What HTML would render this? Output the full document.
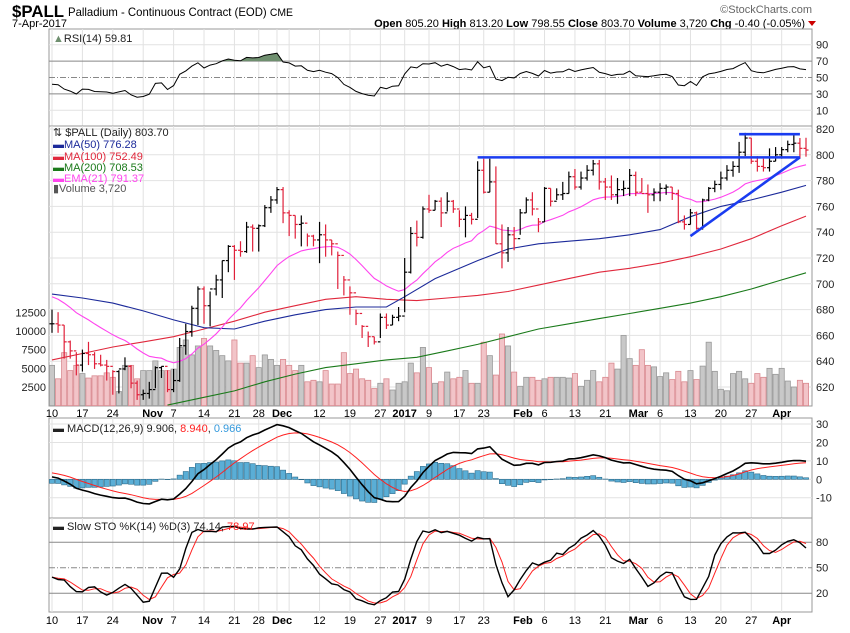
<!DOCTYPE html>
<html><head><meta charset="utf-8"><style>
body{margin:0;background:#fff;width:850px;height:633px;overflow:hidden;font-family:"Liberation Sans",sans-serif}
svg{display:block}
text{font-family:"Liberation Sans",sans-serif}
</style></head><body>
<svg id="chart" width="850" height="633" xmlns="http://www.w3.org/2000/svg">
<text x="12" y="17" font-size="17" font-weight="bold" textLength="52" lengthAdjust="spacingAndGlyphs">$PALL</text>
<text x="68" y="16" font-size="12" textLength="225" lengthAdjust="spacingAndGlyphs">Palladium - Continuous Contract (EOD) <tspan font-size="11">CME</tspan></text>
<text x="12" y="27" font-size="11">7-Apr-2017</text>
<text x="812" y="13" font-size="11" fill="#666" text-anchor="end">©StockCharts.com</text>
<text x="805" y="27" font-size="11" text-anchor="end"><tspan font-weight="bold">Open</tspan> 805.20 <tspan font-weight="bold">High</tspan> 813.20 <tspan font-weight="bold">Low</tspan> 798.55 <tspan font-weight="bold">Close</tspan> 803.70 <tspan font-weight="bold">Volume</tspan> 3,720 <tspan font-weight="bold">Chg</tspan> -0.40 (-0.05%)</text>
<polygon points="808,21 816,21 812,26" fill="#c00"/>
<g id="g"></g>
</svg>
<script>
const closes=[669,668,655,648,637,646,645,638,637,636,632,634,636,623,614,615,618,635,636,618,625,652,663,681,696,683,696,703,718,729,726,725,744,743,745,759,765,773,755,753,746,747,737,734,738,734,731,722,703,693,677,667,659,655,674,668,674,675,709,739,736,758,757,764,755,764,758,750,753,750,788,771,779,731,724,738,735,755,765,758,748,774,764,769,770,783,775,782,788,793,779,775,769,773,774,784,771,770,769,771,774,775,770,748,746,755,743,765,774,777,782,788,791,802,813,795,791,790,795,800,804,808,809,805,803.7];
const highs=[680,678,668,656,647,649,655,647,645,641,633,633,643,637,625,618,624,636,636,633,634,658,669,683,698,698,694,707,718,730,730,733,748,746,746,761,768,775,775,757,753,753,739,738,748,746,734,725,706,698,680,668,663,659,677,677,676,682,720,744,749,760,769,765,767,771,765,757,760,755,795,797,797,791,746,744,744,758,767,771,751,775,774,774,779,787,789,787,792,796,796,782,784,782,780,789,787,782,777,774,778,777,775,773,753,758,756,766,775,780,787,792,795,810,817,813,799,797,805,806,806,811,815,813,813.2];
const lows=[662,662,642,642,629,632,637,634,636,625,614,615,633,619,610,610,611,619,627,616,616,624,645,659,668,669,667,691,689,709,703,721,724,725,725,744,755,762,747,737,735,729,729,729,716,721,722,696,691,676,668,658,651,653,658,665,668,671,678,708,729,735,755,757,744,756,755,744,736,746,751,770,771,731,712,717,726,738,755,753,740,748,760,765,765,770,773,773,780,784,773,765,765,762,768,768,768,771,755,764,764,769,765,747,742,746,742,742,764,771,773,780,783,786,799,793,787,787,787,795,797,802,802,797,798.55];
const volumes=[5400,3600,7100,4700,5400,4300,3700,4000,4000,4400,3800,1900,5400,5400,3600,4700,4700,6000,4700,4700,4900,7800,8800,6800,8000,9000,8000,7400,6700,6000,8800,5700,5700,6700,5100,6800,6200,5400,6200,5400,4700,5400,3200,3400,3200,4700,2900,2900,7100,4300,4900,3600,3400,2300,3000,3600,2100,3000,3200,5700,4400,7800,5100,3000,3200,4500,3600,3800,4700,3000,3000,8500,6700,4100,9600,8000,4500,2600,3800,3800,3400,3600,3800,3800,3800,3700,4300,2600,3400,4700,3200,3800,5700,4900,9400,6300,5400,7500,5400,5200,3900,4400,3500,4600,3200,4700,3500,5300,8500,4600,2200,2000,4300,4600,3600,3000,4300,3800,5000,4200,5000,3300,2500,3400,3000,3400,3600,4100,4000,3720].slice(0,125);
const ma50Idx=[0,5,10,15,20,25,30,35,40,45,50,55,58,63,70,75,80,85,90,95,100,105,110,115,120,124];
const ma50=[692,689,685,679,672,666,665,671,676,680,682,682,690,704,718,727,731,733,735,738,742,752,760,765,771,776.28];
const ma100Idx=[0,5,10,15,20,25,30,35,40,45,50,55,60,65,70,75,80,85,90,95,100,105,110,115,120,124];
const ma100=[641,646,651,655,659,665,671,678,683,688,690,688,687,689,691,694,699,704,709,712,716,721,727,735,745,752.49];
const ma200Idx=[19,25,30,35,40,45,50,55,60,65,70,75,80,85,90,95,100,105,110,115,120,124];
const ma200=[606,612,617,624,630,635,638,641,643,648,653,659,665,669,673,677,681,685,690,696,703,708.53];
const priceTicks=[620,640,660,680,700,720,740,760,780,800,820];
const volTicks=[2500,5000,7500,10000,12500];
const rsiTicks=[10,30,50,70,90];
const macdTicks=[-10,0,10,20,30];
const stoTicks=[20,50,80];

const NS="http://www.w3.org/2000/svg";
const G=document.getElementById('g');
function el(tag,attrs,parent,txt){const e=document.createElementNS(NS,tag);for(const k in attrs)e.setAttribute(k,attrs[k]);if(txt!=null)e.textContent=txt;(parent||G).appendChild(e);return e;}
const L=49,R=812;
const N=closes.length;
const xi=i=>52+i*(754/(N-1));
const py=p=>129+(820-p)*1.29;
const vy=v=>405.7-v/10000*74.7;
const ry=v=>77.5-(v-50)*0.82;
const my=v=>479.3-v*1.843;
const sy=v=>567.7-(v-50)*0.85;
const P={rsi:[29,126],price:[126,406],macd:[418,518],sto:[518,612]};

// trading days
const hol=['2016-11-24','2016-12-26','2017-01-02','2017-01-16','2017-02-20'];
const days=[];let d=new Date(Date.UTC(2016,9,10));
while(days.length<N){const w=d.getUTCDay();const s=d.toISOString().slice(0,10);if(w>0&&w<6&&hol.indexOf(s)<0)days.push(new Date(d));d=new Date(d.getTime()+864e5);}
const mon=['Jan','Feb','Mar','Apr','May','Jun','Jul','Aug','Sep','Oct','Nov','Dec'];
const weeks=[];
for(let i=0;i<N;i++){const dd=days[i],p=i?days[i-1]:null;if(!p||(dd-p)>3*864e5||dd.getUTCDay()<p.getUTCDay())weeks.push(i);}
const grid=[],labels=[];let lastMonthX=-100;
for(let w=0;w<weeks.length;w++){const s=weeks[w],e=w+1<weeks.length?weeks[w+1]:N;grid.push(s);
 let ms=-1;for(let i=s;i<e;i++){if(i>0&&days[i].getUTCMonth()!==days[i-1].getUTCMonth())ms=i;}
 const mname=ms>=0?(days[ms].getUTCMonth()===0?String(days[ms].getUTCFullYear()):mon[days[ms].getUTCMonth()]):null;
 if(ms===s){labels.push([xi(s),mname,true,'middle']);}
 else if(ms>0&&ms-s<=2){labels.push([xi(s)-1,mname,true,'start']);}
 else{if(xi(s)-lastMonthX>24)labels.push([xi(s),String(days[s].getUTCDate()),false,'middle']);
  if(ms>0){labels.push([xi(ms)-5,mname,true,'start']);grid.push(ms);lastMonthX=xi(ms)-5;}}}

// panels
for(const k in P){const [t,b]=P[k];
 const r=el('rect',{x:L,y:t,width:R-L,height:b-t,fill:'#fff',stroke:'#999'});
 
 
 for(const g of grid){const l=el('line',{x1:xi(g),x2:xi(g),y1:t,y2:b,stroke:'#e2e2e2'});
  
  }}
function hline(y,name,stroke,dash){const l=el('line',{x1:L,x2:R,y1:y,y2:y,stroke:stroke||'#e2e2e2'});if(dash)l.setAttribute('stroke-dasharray',dash);
 
 return l;}
function ylab(x,y,t,name,anchor){const e=el('text',{x:x,y:y+4,'font-size':11,'text-anchor':anchor||'start',fill:'#222'},null,t);
 
 }
for(const v of priceTicks){hline(py(v),'price-gridline');ylab(816,py(v),String(v),'price-tick-label');}
for(const v of volTicks){ylab(46,vy(v),String(v),'volume-tick-label','end');}
for(const v of rsiTicks){hline(ry(v),'rsi-gridline',v===70||v===30||v===50?'#888':'#e2e2e2',v===50?'6,2,1,2':null);ylab(816,ry(v),String(v),'rsi-tick-label');}
for(const v of macdTicks){hline(my(v),'macd-gridline');ylab(816,my(v),String(v),'macd-tick-label');}
for(const v of stoTicks){hline(sy(v),'stoch-gridline','#888',v===50?'6,2,1,2':null);ylab(816,sy(v),String(v),'stoch-tick-label');}
for(const yb of [417,624]){for(const m of labels){const e=el('text',{x:m[0],y:yb,'font-size':11,'font-weight':m[2]?'bold':'normal','text-anchor':m[3]},null,m[1]);
 
 }}

// volume
for(let i=0;i<N;i++){const up=i===0||closes[i]>=closes[i-1];
 const r=el('rect',{x:xi(i)-2.6,y:vy(volumes[i]),width:5.2,height:405.7-vy(volumes[i]),fill:up?'#c8c8c8':'#f2c4c8',stroke:up?'#999':'#d9898f','stroke-width':0.8});
 
 }
function poly(idx,vals,f,color,name,w){const pts=vals.map((v,k)=>xi(idx?idx[k]:k).toFixed(1)+','+f(v).toFixed(1)).join(' ');
 const p=el('polyline',{points:pts,fill:'none',stroke:color,'stroke-width':w||1.1});
 
 return p;}
poly(ma200Idx,ma200,py,'#1a7a1a','ma200-line');
poly(ma100Idx,ma100,py,'#e0283c','ma100-line');
poly(ma50Idx,ma50,py,'#1c2a9a','ma50-line');
const ema21=[];let e21=690;for(let i=0;i<N;i++){e21=i?e21+(closes[i]-e21)*2/22:e21;ema21.push(e21);}
poly(null,ema21,py,'#ff44ee','ema21-line');
for(let i=0;i<N;i++){const up=i===0||closes[i]>=closes[i-1];const c=up?'#000':'#e0203a';const o=i?closes[i-1]:closes[i];const x=xi(i);
 const g=el('g',{stroke:c,'stroke-width':1.2});
 
 
 el('line',{x1:x,x2:x,y1:py(highs[i]),y2:py(lows[i])},g);
 el('line',{x1:x-2.5,x2:x,y1:py(o),y2:py(o)},g);
 el('line',{x1:x,x2:x+2.5,y1:py(closes[i]),y2:py(closes[i])},g);}
const ann=[[70,798,123,798],[113,816,123,816],[105,737,123,798]];
for(const a of ann){const l=el('line',{x1:xi(a[0]),y1:py(a[1]),x2:xi(a[2]),y2:py(a[3]),stroke:'#1a3cf0','stroke-width':2.6});
 
 }

const rsi=[];let ag=3,al=4.2;
for(let i=0;i<N;i++){if(i){const ch=closes[i]-closes[i-1];ag=(ag*13+Math.max(ch,0))/14;al=(al*13+Math.max(-ch,0))/14;}rsi.push(100-100/(1+ag/al));}
let fill='M'+xi(0)+','+ry(70);for(let i=0;i<N;i++)fill+=' L'+xi(i).toFixed(1)+','+Math.min(ry(rsi[i]),ry(70)).toFixed(1);fill+=' L'+xi(N-1)+','+ry(70)+'Z';
const fp=el('path',{d:fill,fill:'#6f8f6f',stroke:'none'});


poly(null,rsi,ry,'#000','rsi-line',1);
let e12=676,e26=674,sig=4;const macd=[],sg=[];
for(let i=0;i<N;i++){e12+=(closes[i]-e12)*2/13;e26+=(closes[i]-e26)*2/27;const m=e12-e26;sig+=(m-sig)*2/10;macd.push(m);sg.push(sig);}
for(let i=0;i<N;i++){const h=macd[i]-sg[i];const r=el('rect',{x:xi(i)-2.6,y:Math.min(my(h),my(0)),width:5.2,height:Math.abs(my(h)-my(0)),fill:'#5aaed6',stroke:'#2a6a8a','stroke-width':0.6});
 
 }
poly(null,sg,my,'#ff2020','macd-signal-line',1);
poly(null,macd,my,'#000','macd-line',1.6);
const raw=[];for(let i=0;i<N;i++){const s=Math.max(0,i-13);const hh=Math.max(...highs.slice(s,i+1)),ll=Math.min(...lows.slice(s,i+1));raw.push((closes[i]-ll)/(hh-ll)*100);}
const sma3=a=>a.map((v,i)=>{const s=a.slice(Math.max(0,i-2),i+1);return s.reduce((x,y)=>x+y,0)/s.length;});
const kS=sma3(raw),dS=sma3(kS);
poly(null,dS,sy,'#ff2020','stoch-d-line',1);
poly(null,kS,sy,'#000','stoch-k-line',1.4);

function leg(x,y,html,name){const t=el('text',{x:x,y:y,'font-size':11,fill:'#222'});t.innerHTML=html;
 
 }
leg(53,42,'<tspan fill="#6f8f6f">▲</tspan>RSI(14) 59.81','rsi-legend');
leg(53,136,'⇅ $PALL (Daily) 803.70','price-legend');
leg(53,148,'<tspan fill="#1c2a9a">▬MA(50) 776.28</tspan>','legend-ma50');
leg(53,160,'<tspan fill="#e0283c">▬MA(100) 752.49</tspan>','legend-ma100');
leg(53,171,'<tspan fill="#1a7a1a">▬MA(200) 708.53</tspan>','legend-ma200');
leg(53,182,'<tspan fill="#ff44ee">▬EMA(21) 791.37</tspan>','legend-ema21');
leg(53,192,'<tspan fill="#555">▮Volume 3,720</tspan>','legend-volume');
leg(53,432,'▬ MACD(12,26,9) 9.906, <tspan fill="#ff2020">8.940</tspan>, <tspan fill="#3399dd">0.966</tspan>','macd-legend');
leg(53,530,'▬ Slow STO %K(14) %D(3) 74.14, <tspan fill="#ff2020">78.97</tspan>','stoch-legend');
</script>
</body></html>
